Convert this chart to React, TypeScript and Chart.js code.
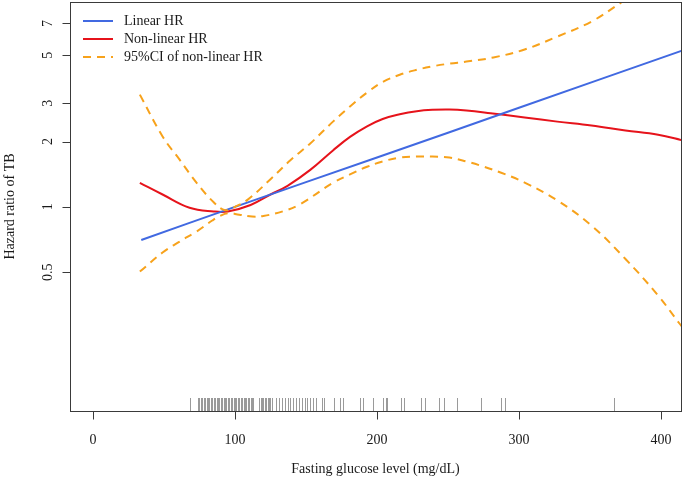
import React, { useEffect, useRef } from 'react';
import { Chart, registerables } from 'chart.js';

Chart.register(...registerables);

const FONT = '"Liberation Serif", "Times New Roman", serif';

// Axis ticks
const xTicks = [0, 100, 200, 300, 400];
const xTickLabels = ['0', '100', '200', '300', '400'];
const yTicks = [0.5, 1, 2, 3, 5, 7];
const yTickLabels = ['0.5', '1', '2', '3', '5', '7'];

const xTitle = 'Fasting glucose level (mg/dL)';
const yTitle = 'Hazard ratio of TB';

const seriesLabels = ['Linear HR', 'Non-linear HR', '95%CI of non-linear HR'];

// Linear HR
const linearX = [34, 100, 200, 300, 416];
const linearHR = [0.703, 1.0, 1.687, 2.86, 5.28];

// Non-linear HR
const nonLinearX = [33, 49, 68, 85, 95, 111, 125, 137, 153, 169, 181, 193, 204, 216, 228, 239, 251, 263, 280, 304, 327, 351, 375, 398, 416];
const nonLinearHR = [1.29, 1.14, 0.99, 0.952, 0.952, 1.02, 1.14, 1.25, 1.48, 1.82, 2.1, 2.35, 2.54, 2.67, 2.76, 2.8, 2.81, 2.78, 2.7, 2.58, 2.47, 2.37, 2.25, 2.15, 2.02];

// Upper 95% CI
const upperX = [33, 49, 61, 73, 85, 93, 100, 109, 125, 139, 153, 169, 181, 193, 204, 216, 228, 239, 251, 263, 282, 304, 327, 351, 372, 395, 416];
const upperCI = [3.29, 2.11, 1.65, 1.29, 1.05, 0.965, 1.0, 1.08, 1.34, 1.64, 1.96, 2.47, 2.9, 3.36, 3.76, 4.06, 4.28, 4.44, 4.57, 4.67, 4.88, 5.31, 6.09, 7.14, 8.74, 11.0, 14.0];

// Lower 95% CI
const lowerX = [33, 49, 61, 73, 84, 89, 95, 103, 112, 120, 134, 146, 169, 181, 193, 204, 216, 228, 239, 251, 263, 275, 287, 304, 327, 351, 375, 398, 413, 416];
const lowerCI = [0.503, 0.616, 0.692, 0.77, 0.865, 0.905, 0.935, 0.92, 0.902, 0.908, 0.955, 1.03, 1.29, 1.41, 1.53, 1.618, 1.687, 1.705, 1.705, 1.687, 1.618, 1.534, 1.44, 1.294, 1.07, 0.82, 0.575, 0.39, 0.29, 0.275];

// Rug (observed glucose values)
const rugValues = [
  68.5,
  74, 75, 76, 77, 78, 79, 80, 81, 82, 83, 84, 85, 86, 87, 88, 89, 90, 91, 92, 93,
  94, 95, 96, 97, 98, 99, 100, 101, 102, 103, 104, 105, 106, 107, 108, 109, 110, 111, 112, 113,
  117, 118, 119, 120, 121, 122, 123, 124, 125, 126,
  129, 131, 133, 135, 137, 139, 141, 143, 145, 147, 149, 151, 153, 155, 157,
  161, 163, 170, 174, 176, 188, 190, 197, 204, 206, 207, 217, 219, 231, 234,
  244, 247, 256, 273, 287, 290, 367,
];

const BLUE = '#4169E1';
const RED = '#E6131B';
const ORANGE = '#F7A21B';
const AXIS = '#3a3a3a';
const TEXT = '#1a1a1a';

const toPts = (xs: number[], ys: number[]) => xs.map((x, i) => ({ x, y: ys[i] }));

export default function App() {
  const ref = useRef<HTMLCanvasElement>(null);

  useEffect(() => {
    const canvas = ref.current;
    if (!canvas) return;

    const decor = {
      id: 'decor',
      beforeDatasetsDraw(chart: any) {
        const { ctx, chartArea, scales } = chart;
        const xs = scales.x;
        ctx.save();
        // rug
        ctx.strokeStyle = '#9a9a9a';
        ctx.lineWidth = 1;
        ctx.beginPath();
        rugValues.forEach((v) => {
          const px = Math.round(xs.getPixelForValue(v)) + 0.5;
          ctx.moveTo(px, chartArea.bottom);
          ctx.lineTo(px, chartArea.bottom - 13);
        });
        ctx.stroke();
        ctx.restore();
      },
      afterDatasetsDraw(chart: any) {
        const { ctx, chartArea, scales } = chart;
        const xs = scales.x;
        const ys = scales.y;
        const L = chartArea.left + 0.5;
        const B = chartArea.bottom + 0.5;
        ctx.save();
        // box
        ctx.strokeStyle = AXIS;
        ctx.lineWidth = 1;
        ctx.strokeRect(L, chartArea.top + 0.5, chartArea.right - chartArea.left, chartArea.bottom - chartArea.top);

        // x ticks
        ctx.font = `14px ${FONT}`;
        ctx.fillStyle = TEXT;
        ctx.textAlign = 'center';
        ctx.textBaseline = 'middle';
        ctx.beginPath();
        xTicks.forEach((v) => {
          const px = Math.round(xs.getPixelForValue(v)) + 0.5;
          ctx.moveTo(px, B);
          ctx.lineTo(px, B + 8);
        });
        ctx.stroke();
        xTicks.forEach((v, i) => {
          ctx.fillText(xTickLabels[i], xs.getPixelForValue(v), 440);
        });

        // y ticks
        ctx.beginPath();
        yTicks.forEach((v) => {
          const py = Math.round(ys.getPixelForValue(v)) + 0.5;
          ctx.moveTo(L, py);
          ctx.lineTo(L - 8, py);
        });
        ctx.stroke();
        yTicks.forEach((v, i) => {
          ctx.save();
          ctx.translate(48, ys.getPixelForValue(v));
          ctx.rotate(-Math.PI / 2);
          ctx.fillText(yTickLabels[i], 0, 0);
          ctx.restore();
        });

        // titles
        ctx.fillText(xTitle, (chartArea.left + chartArea.right) / 2, 469);
        ctx.save();
        ctx.translate(10, (chartArea.top + chartArea.bottom) / 2);
        ctx.rotate(-Math.PI / 2);
        ctx.fillText(yTitle, 0, 0);
        ctx.restore();

        // legend
        const rows = [
          { label: seriesLabels[0], color: BLUE, dash: [] as number[] },
          { label: seriesLabels[1], color: RED, dash: [] as number[] },
          { label: seriesLabels[2], color: ORANGE, dash: [8, 6] },
        ];
        rows.forEach((r, i) => {
          const y = 21 + i * 18;
          ctx.strokeStyle = r.color;
          ctx.lineWidth = 2;
          ctx.setLineDash(r.dash);
          ctx.beginPath();
          ctx.moveTo(83, y);
          ctx.lineTo(113, y);
          ctx.stroke();
          ctx.setLineDash([]);
          ctx.textAlign = 'left';
          ctx.fillStyle = TEXT;
          ctx.fillText(r.label, 124, y);
        });
        ctx.restore();
      },
    };

    const lineDs = (label: string, pts: any[], color: string, dash: number[]) => ({
      label,
      data: pts,
      borderColor: color,
      backgroundColor: color,
      borderWidth: 2,
      borderDash: dash,
      pointRadius: 0,
      fill: false,
      tension: 0.4,
      clip: 0,
    });

    const chart = new Chart(canvas, {
      type: 'line',
      data: {
        datasets: [
          lineDs(seriesLabels[2], toPts(upperX, upperCI), ORANGE, [8, 6]),
          lineDs(seriesLabels[2], toPts(lowerX, lowerCI), ORANGE, [8, 6]),
          lineDs(seriesLabels[0], toPts(linearX, linearHR), BLUE, []),
          lineDs(seriesLabels[1], toPts(nonLinearX, nonLinearHR), RED, []),
        ],
      },
      options: {
        animation: false,
        responsive: false,
        maintainAspectRatio: false,
        devicePixelRatio: 1,
        layout: { padding: { left: 70, top: 2, right: 3, bottom: 75 } },
        plugins: { legend: { display: false }, tooltip: { enabled: false } },
        scales: {
          x: { type: 'linear', min: -16.2, max: 414.1, display: false },
          y: { type: 'logarithmic', min: 0.1146, max: 8.79, display: false },
        },
      },
      plugins: [decor],
    });
    return () => chart.destroy();
  }, []);

  return (
    <div style={{ position: 'absolute', left: 0, top: 0, width: 684, height: 486, background: '#fff' }}>
      <canvas ref={ref} width={684} height={486} style={{ display: 'block', width: 684, height: 486 }} />
    </div>
  );
}
